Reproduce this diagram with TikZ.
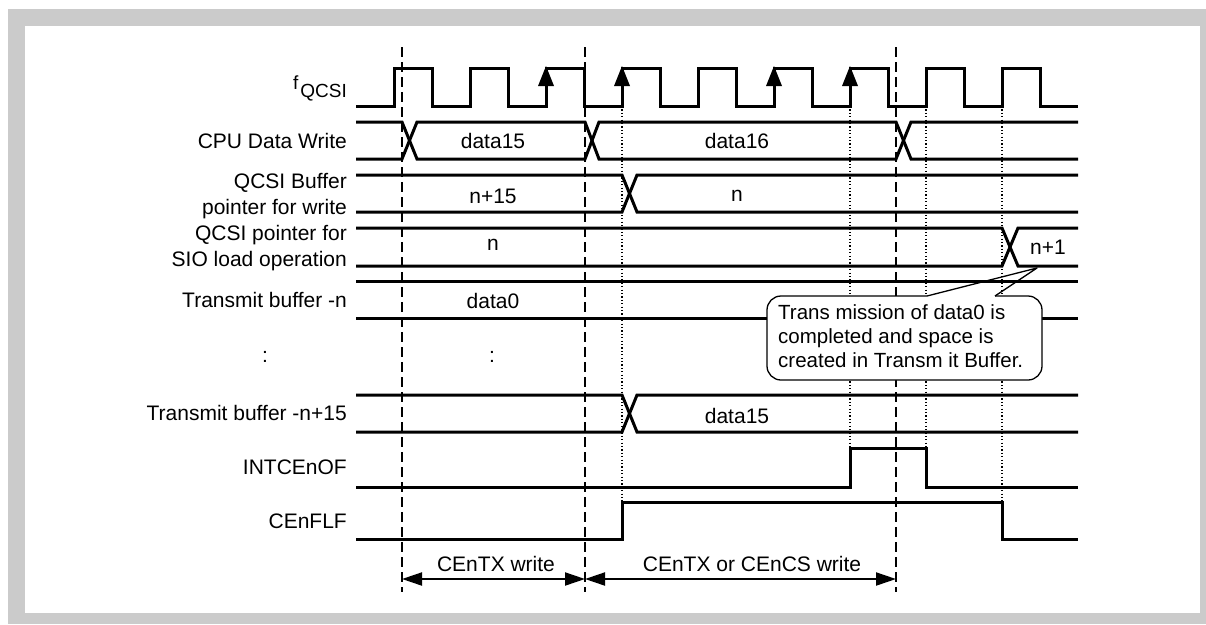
\documentclass[tikz,border=0pt]{standalone}
\usepackage{fontspec}
\setmainfont{Liberation Sans}
\usetikzlibrary{arrows.meta}
\definecolor{framegray}{HTML}{CBCBCB}
\begin{document}
\begin{tikzpicture}[x=1pt, y=-1pt, % pixel grid, y runs downwards
    sig/.style={line width=3pt},
    guide/.style={line width=1.4pt, dash pattern=on 10pt off 5pt},
    tick/.style={line width=1.4pt, dash pattern=on 1.2pt off 2.2pt},
    dim/.style={line width=2pt, {Triangle[length=20pt,width=13pt]}-{Triangle[length=20pt,width=13pt]}},
    lbl/.style={anchor=east, align=right, inner sep=0pt, font=\fontsize{21}{26}\selectfont},
    val/.style={inner sep=0pt, font=\fontsize{21}{26}\selectfont}]

        % Frame
        \useasboundingbox (0,0) rectangle (1206,624);
        \fill[white] (0,0) rectangle (1206,624);
        \fill[framegray] (8,9) rectangle (1206,624);
        \fill[white] (25,26) rectangle (1200,613);

        % Dashed guides and dotted edges
        \foreach \x in {402,585,896}
          \draw[guide] (\x,47) -- (\x,592);
        \foreach \x/\y in {622/502,850/448,926/448,1002/502}
          \draw[tick] (\x,106) -- (\x,\y);

        % Clock
        \draw[sig] (356,106) \foreach \k in {0,...,8} {
            -- ({394+76*\k},106) -- ({394+76*\k},68) -- ({432+76*\k},68) -- ({432+76*\k},106) }
          -- (1078,106);
        \foreach \r in {546,622,774,850}
          \fill (\r,66) -- ++(-8,20) -- ++(16,0) -- cycle;

        % CPU Data Write
        \draw[sig] (356,122) -- (402,122) -- (417,159) -- (585,159) -- (599,122) -- (896,122) -- (911,159) -- (1078,159);
        \draw[sig] (356,159) -- (402,159) -- (417,122) -- (585,122) -- (599,159) -- (896,159) -- (911,122) -- (1078,122);

        % QCSI Buffer pointer for write
        \draw[sig] (356,175) -- (622,175) -- (637,212) -- (1078,212);
        \draw[sig] (356,212) -- (622,212) -- (637,175) -- (1078,175);

        % QCSI pointer for SIO load operation
        \draw[sig] (356,228) -- (1002,228) -- (1018,266) -- (1078,266);
        \draw[sig] (356,266) -- (1002,266) -- (1018,228) -- (1078,228);

        % Transmit buffer -n
        \draw[sig] (356,281) -- (1078,281);
        \draw[sig] (356,318) -- (1078,318);

        % Transmit buffer -n+15
        \draw[sig] (356,395) -- (622,395) -- (637,432) -- (1078,432);
        \draw[sig] (356,432) -- (622,432) -- (637,395) -- (1078,395);

        % INTCEnOF and CEnFLF
        \draw[sig] (356,487) -- (850,487) -- (850,448) -- (926,448) -- (926,487) -- (1078,487);
        \draw[sig] (356,539) -- (622,539) -- (622,502) -- (1002,502) -- (1002,539) -- (1078,539);

        % Signal names
        \node[anchor=base east, inner sep=0pt, font=\fontsize{19}{19}\selectfont] (fqcsi) at (347,89) {f\kern2pt\raisebox{-8pt}{QCSI}};
        \node[lbl] (cpuwr) at (347,141) {CPU Data Write};
        \node[lbl] (bufwr) at (347,196) {QCSI Buffer\\pointer for write};
        \node[lbl] (sioptr) at (347,248) {QCSI pointer for\\SIO load operation};
        \node[lbl] (txn) at (347,300) {Transmit buffer -n};
        \node[val] (dotsl) at (265,357) {:};
        \node[lbl] (txn15) at (347,413) {Transmit buffer -n+15};
        \node[lbl] (intof) at (347,467) {INTCEnOF};
        \node[lbl] (flf) at (347,521) {CEnFLF};

        % Bus values
        \node[val] (d15) at (493,141) {data15};
        \node[val] (d16) at (737,141) {data16};
        \node[val] (p15) at (493,196) {n+15};
        \node[val] (pn) at (737,196) {n};
        \node[val] (sn) at (493,245) {n};
        \node[val] (sn1) at (1048,247) {n+1};
        \node[val] (d0) at (493,301) {data0};
        \node[val] (dotsm) at (492,357) {:};
        \node[val] (t15) at (737,416) {data15};

        % Callout
        \coordinate (tip) at (1037,268);
        \draw[line width=1.3pt, fill=white, rounded corners=14pt] (927,296) -- (767,296) -- (767,380) -- (1042,380) -- (1042,296) -- (995,296);
        \draw[line width=1.3pt, line join=round] (927,296) -- (tip) -- (995,296);
        \node[anchor=north west, align=left, inner sep=0pt, font=\fontsize{20.5}{24}\selectfont] (note) at (778,304)
          {Trans mission of data0 is\\completed and space is\\created in Transm it Buffer.};

        % Write windows
        \coordinate (w1) at (402,579);
        \coordinate (w2) at (585,579);
        \coordinate (w3) at (896,579);
        \draw[dim] (w1) -- (w2);
        \draw[dim] (w2) -- (w3);
        \node[val] (txwr) at (496,564) {CEnTX write};
        \node[val] (cswr) at (752,564) {CEnTX or CEnCS write};

    \end{tikzpicture}
\end{document}
